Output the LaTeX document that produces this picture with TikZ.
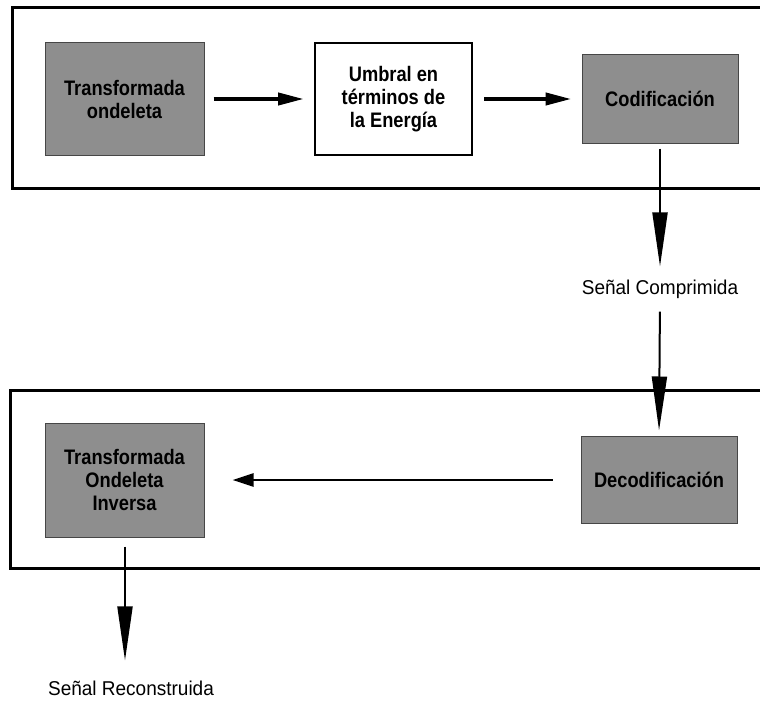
\documentclass[tikz,border=0pt]{standalone}
\usepackage{fontspec}
\setmainfont{Liberation Sans}
\newfontfamily\boxfont{Liberation Sans}[FakeStretch=0.87]
\newfontfamily\labelfont{Liberation Sans}[FakeStretch=0.95]
\usetikzlibrary{arrows.meta}
\definecolor{boxgray}{RGB}{142,142,142}
\definecolor{edgegray}{RGB}{70,70,70}
\tikzset{
  frame/.style={line width=3pt, draw=black},
  graybox/.style={draw=edgegray, line width=1pt, fill=boxgray, inner sep=0pt,
    align=center, font=\boxfont\bfseries\fontsize{21}{23}\selectfont},
  whitebox/.style={draw=black, line width=2pt, fill=white, inner sep=0pt,
    align=center, font=\boxfont\bfseries\fontsize{21}{23}\selectfont},
  signal/.style={font=\labelfont\fontsize{20}{22}\selectfont, inner sep=0pt},
  flowthick/.style={line width=4pt, -{Triangle[length=26pt,width=12pt]}},
  flowthin/.style={line width=2.5pt, -{Triangle[length=21pt,width=13pt]}},
  flowdown/.style={line width=2pt, -{Triangle[length=54pt,width=15pt]}},
}
\begin{document}
\begin{tikzpicture}[x=1pt,y=-1pt]
\useasboundingbox[fill=white] (0,0) rectangle (760,701);

% outer frames, open on the right
\draw[frame] (760,8) -- (12,8) -- (12,188) -- (760,188);
\draw[frame] (760,390) -- (10,390) -- (10,568) -- (760,568);

% processing blocks, compression stage
\node[graybox, minimum width=159pt, minimum height=112pt] (tw) at (124.5,99)
  {Transformada\\ondeleta};
\node[whitebox, minimum width=157pt, minimum height=112pt] (umb) at (393.5,99)
  {Umbral en\\términos de\\la Energía};
\node[graybox, minimum width=156pt, minimum height=88pt] (cod) at (660,99)
  {Codificación};

% processing blocks, reconstruction stage
\node[graybox, minimum width=156pt, minimum height=87pt] (dec) at (659,479.5)
  {Decodificación};
\node[graybox, minimum width=159pt, minimum height=114pt] (itw) at (124.5,480)
  {Transformada\\Ondeleta\\Inversa};

% signal labels
\node[signal] (sc) at (660,289) {Señal Comprimida};
\node[signal] (sr) at (131,688) {Señal Reconstruida};

% connectors
\draw[flowthick, shorten <=9pt, shorten >=10pt] (tw.east) -- (umb.west);
\draw[flowthick, shorten <=11pt, shorten >=10pt] (umb.east) -- (cod.west);
\draw[flowthin, shorten <=28pt, shorten >=28pt] (dec.west |- 0,480) -- (itw.east |- 0,480);
\draw[flowdown, shorten <=5pt, shorten >=13pt] (cod.south) -- (sc.north);
\draw[flowdown, shorten <=13pt, shorten >=5pt] (sc.south) -- (dec.north);
\draw[flowdown, shorten <=9pt, shorten >=20pt] (itw.south -| 125,0) -- (sr.north -| 125,0);
\end{tikzpicture}
\end{document}
